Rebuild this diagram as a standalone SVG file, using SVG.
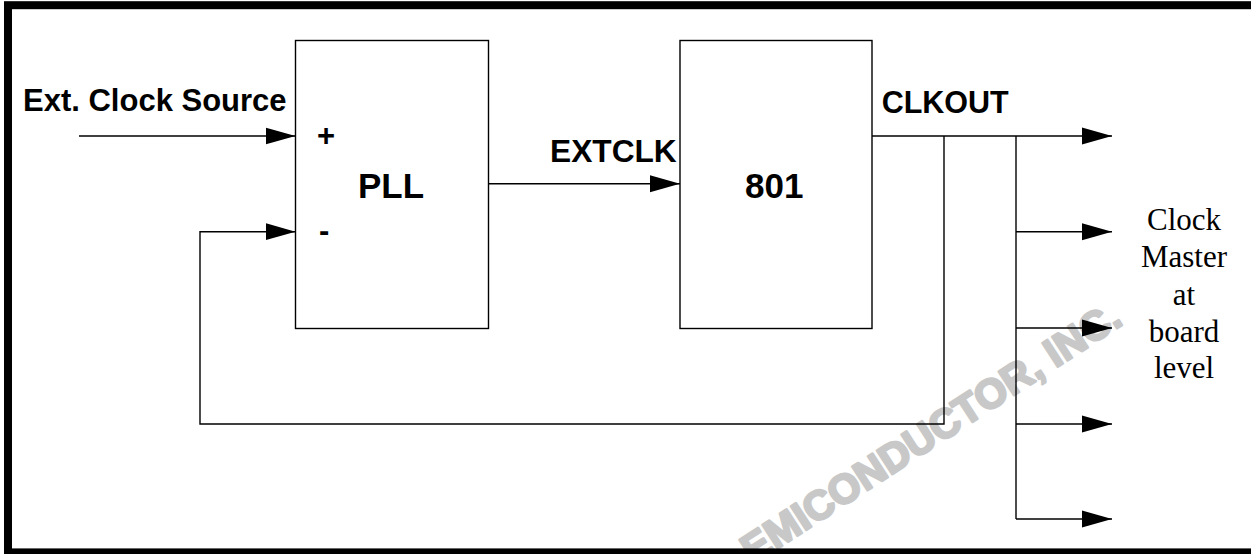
<svg xmlns="http://www.w3.org/2000/svg" width="1251" height="554" viewBox="0 0 1251 554">
  <style>
    .box { fill: #ffffff; stroke: #000000; stroke-width: 1.4; }
    .wire { fill: none; stroke: #000000; stroke-width: 1.4; }
    .lbl { font-family: "Liberation Sans", Arial, sans-serif; font-weight: bold; fill: #000000; }
    .note { font-family: "Liberation Serif", "Times New Roman", serif; font-size: 31px; fill: #000000; text-anchor: middle; }
    .wm { font-family: "Liberation Sans", Arial, sans-serif; font-weight: bold; font-size: 41px; fill: #c8c8c8; stroke: #c8c8c8; stroke-width: 2.5; stroke-linejoin: round; }
  </style>
  <defs>
    <marker id="arrow" markerUnits="userSpaceOnUse" markerWidth="31" markerHeight="18" refX="30" refY="9" orient="auto">
      <path d="M0,0.5 L30,9 L0,17.5 Z" fill="#000000"/>
    </marker>
  </defs>
  <rect x="0" y="0" width="1251" height="554" fill="#ffffff"/>
  <text class="wm" x="752.5" y="565" transform="rotate(-33 752.5 565)">EMICONDUCTOR, INC.</text>
  <g id="frame">
    <rect x="8" y="5.2" width="1260" height="547.2" fill="none" stroke="#000000" stroke-width="8"/>
  </g>
  <g id="connectors">
    <line class="wire" x1="79" y1="136" x2="295.5" y2="136" marker-end="url(#arrow)"/>
    <path class="wire" d="M944,136 V424 H200 V231.7 H295.5" marker-end="url(#arrow)"/>
    <line class="wire" x1="488.5" y1="183.7" x2="680" y2="183.7" marker-end="url(#arrow)"/>
    <line class="wire" x1="872" y1="136" x2="1112" y2="136" marker-end="url(#arrow)"/>
    <line class="wire" x1="1016" y1="136" x2="1016" y2="519"/>
    <line class="wire" x1="1016" y1="231.7" x2="1112" y2="231.7" marker-end="url(#arrow)"/>
    <line class="wire" x1="1016" y1="328" x2="1112" y2="328" marker-end="url(#arrow)"/>
    <line class="wire" x1="1016" y1="424" x2="1112" y2="424" marker-end="url(#arrow)"/>
    <line class="wire" x1="1016" y1="519" x2="1112" y2="519" marker-end="url(#arrow)"/>
  </g>
  <g id="ext-clock-source">
    <text class="lbl" x="23" y="111" font-size="31">Ext. Clock Source</text>
  </g>
  <g id="pll">
    <rect class="box" x="295.5" y="40.5" width="193" height="288"/>
    <text class="lbl" x="317" y="146" font-size="31">+</text>
    <text class="lbl" x="319" y="241" font-size="31">-</text>
    <text class="lbl" x="358" y="198" font-size="35">PLL</text>
  </g>
  <g id="extclk-label">
    <text class="lbl" x="550" y="161.7" font-size="31.7">EXTCLK</text>
  </g>
  <g id="mpc801">
    <rect class="box" x="680" y="40.5" width="192" height="288"/>
    <text class="lbl" x="745" y="198.3" font-size="35">801</text>
  </g>
  <g id="clkout-label">
    <text class="lbl" x="881.7" y="112.7" font-size="30.5">CLKOUT</text>
  </g>
  <g id="clock-master">
    <text class="note" x="1184" y="230">Clock</text>
    <text class="note" x="1184" y="267">Master</text>
    <text class="note" x="1184" y="305">at</text>
    <text class="note" x="1184" y="342">board</text>
    <text class="note" x="1184" y="378">level</text>
  </g>
</svg>
